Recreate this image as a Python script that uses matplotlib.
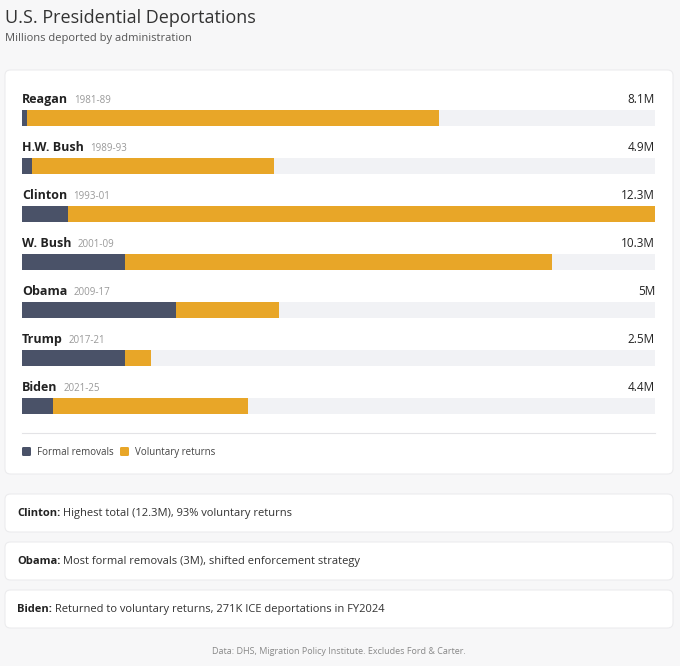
import matplotlib
matplotlib.use("Agg")
import matplotlib.pyplot as plt
from matplotlib.patches import FancyBboxPatch

plt.rcParams["font.family"] = ["Open Sans", "DejaVu Sans"]

PRESIDENTS = ["Reagan", "H.W. Bush", "Clinton", "W. Bush", "Obama", "Trump", "Biden"]
TERMS = ["1981-89", "1989-93", "1993-01", "2001-09", "2009-17", "2017-21", "2021-25"]
FORMAL = [0.1, 0.2, 0.9, 2.0, 3.0, 2.0, 0.6]
TOTAL = [8.1, 4.9, 12.3, 10.3, 5.0, 2.5, 4.4]
TOTAL_LABELS = ["8.1M", "4.9M", "12.3M", "10.3M", "5M", "2.5M", "4.4M"]
NOTES = [
    ("Clinton:", " Highest total (12.3M), 93% voluntary returns"),
    ("Obama:", " Most formal removals (3M), shifted enforcement strategy"),
    ("Biden:", " Returned to voluntary returns, 271K ICE deportations in FY2024"),
]

W, H = 680, 666
DARK = "#4a5268"
GOLD = "#e8a628"
TRACK = "#f1f2f5"

fig = plt.figure(figsize=(W / 100, H / 100), dpi=100)
fig.patch.set_facecolor("#f7f7f8")


def px(x, y):
    return x / W, 1 - y / H


def card(x0, y0, x1, y1):
    fx, fy = px(x0, y1)
    fig.patches.append(FancyBboxPatch(
        (fx, fy), (x1 - x0) / W, (y1 - y0) / H,
        boxstyle="round,pad=0,rounding_size=0.008", transform=fig.transFigure,
        facecolor="white", edgecolor="#ececee", lw=0.8, zorder=0))


fig.text(*px(5, 18), "U.S. Presidential Deportations", fontsize=13,
         color="#333333", va="center")
fig.text(*px(5, 39), "Millions deported by administration", fontsize=8,
         color="#555555", va="center")

card(5, 70, 673, 474)
for i in range(3):
    card(5, 494 + 48 * i, 673, 532 + 48 * i)

# bar axes: x in millions, y in pixels
top, bot = 85, 420
ax = fig.add_axes([22 / W, 1 - bot / H, 633 / W, (bot - top) / H])
ax.set_zorder(5)
ax.patch.set_visible(False)
ax.set_xlim(0, TOTAL[2])
ax.set_ylim(bot, top)
ax.axis("off")
for i, (name, term, f, t, lab) in enumerate(zip(PRESIDENTS, TERMS, FORMAL, TOTAL, TOTAL_LABELS)):
    yb = 118 + 48 * i
    yl = 103 + 48 * i
    ax.barh(yb, TOTAL[2], height=16, color=TRACK)
    ax.barh(yb, f, height=16, color=DARK)
    ax.barh(yb, t - f, left=f, height=16, color=GOLD)
    t1 = ax.text(0, yl, name, fontsize=9, fontweight="bold", color="#222222", va="baseline")
    fig.canvas.draw()
    bb = t1.get_window_extent()
    x_end = ax.transData.inverted().transform((bb.x1, bb.y0))[0]
    ax.text(x_end + 0.12, yl, term, fontsize=7, color="#999999", va="baseline")
    ax.text(TOTAL[2], yl, lab, fontsize=8.5, color="#222222", va="baseline", ha="right")

fig.lines.append(plt.Line2D([22 / W, 655 / W], [1 - 433 / H] * 2,
                            transform=fig.transFigure, color="#e3e3e6", lw=0.8))
for xx, c, lab in [(22, DARK, "Formal removals"), (120, GOLD, "Voluntary returns")]:
    fig.patches.append(FancyBboxPatch(px(xx, 456), 9 / W, 9 / H,
                                      boxstyle="round,pad=0,rounding_size=0.002",
                                      transform=fig.transFigure, facecolor=c, edgecolor="none"))
    fig.text(*px(xx + 15, 455), lab, fontsize=7, color="#444444", va="baseline")

for i, (bold, rest) in enumerate(NOTES):
    y = 516 + 48 * i
    t1 = fig.text(*px(17, y), bold, fontsize=8, fontweight="bold", color="#222222", va="baseline")
    fig.canvas.draw()
    bb = t1.get_window_extent()
    fig.text(bb.x1 / fig.bbox.width, 1 - y / H, rest, fontsize=8, color="#333333", va="baseline")

fig.text(*px(339, 652), "Data: DHS, Migration Policy Institute. Excludes Ford & Carter.",
         fontsize=6.5, color="#888888", ha="center", va="center")

fig.savefig("out.png", dpi=100)
